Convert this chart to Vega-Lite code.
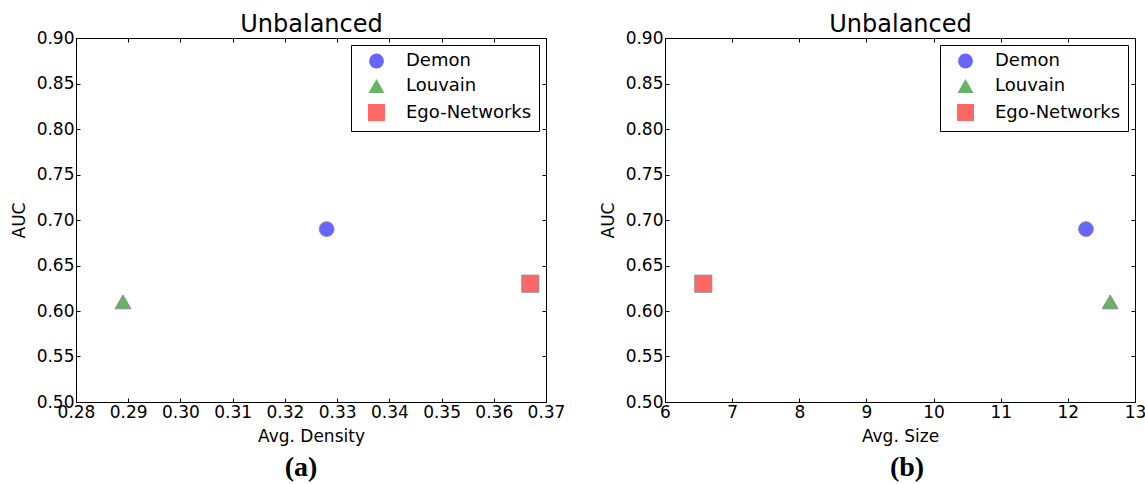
{
  "$schema": "https://vega.github.io/schema/vega-lite/v6.json",
  "padding": {"left": 10, "top": 12, "right": 0, "bottom": 0},
  "background": "white",
  "data": {"values": [
    {"method": "Demon", "density": 0.328, "size": 12.27, "auc": 0.69},
    {"method": "Louvain", "density": 0.289, "size": 12.63, "auc": 0.61},
    {"method": "Ego-Networks", "density": 0.367, "size": 6.57, "auc": 0.63}
  ]},
  "config": {
    "font": "DejaVu Sans",
    "view": {"stroke": null},
    "axis": {
      "grid": false,
      "domainColor": "black",
      "domainWidth": 1,
      "tickColor": "black",
      "tickWidth": 1,
      "tickSize": -4,
      "labelColor": "black",
      "titleColor": "black",
      "labelFont": "DejaVu Sans",
      "titleFont": "DejaVu Sans",
      "labelFontSize": 17,
      "titleFontSize": 17,
      "titleFontWeight": "normal",
      "labelFlush": false,
      "labelOverlap": false
    },
    "legend": {
      "orient": "top-right",
      "offset": 7,
      "title": null,
      "strokeColor": "black",
      "fillColor": "white",
      "padding": 7,
      "symbolOffset": 9,
      "labelOffset": 20,
      "labelFont": "DejaVu Sans",
      "labelFontSize": 18,
      "labelColor": "black",
      "rowPadding": 6,
      "symbolStrokeColor": "#8c8c8c",
      "symbolStrokeWidth": 1,
      "symbolOpacity": 1,
      "cornerRadius": 0
    }
  },
  "spacing": 34,
  "hconcat": [
    {
      "width": 470,
      "height": 364,
      "title": {"text": "(a)", "orient": "bottom", "font": "Liberation Serif", "fontWeight": "bold", "fontSize": 28, "color": "black", "frame": "group", "anchor": "middle", "dx": -10, "offset": 10},
      "layer": [
        {
          "mark": {"type": "point", "filled": true, "opacity": 1, "stroke": "#8c8c8c", "strokeWidth": 1},
          "encoding": {
            "x": {"field": "density", "type": "quantitative", "scale": {"domain": [0.28, 0.37], "nice": false, "zero": false},
                  "axis": {"values": [0.28, 0.29, 0.30, 0.31, 0.32, 0.33, 0.34, 0.35, 0.36, 0.37], "format": ".2f", "title": "Avg. Density", "labelPadding": 6, "titlePadding": 8}},
            "y": {"field": "auc", "type": "quantitative", "scale": {"domain": [0.5, 0.9], "nice": false, "zero": false},
                  "axis": {"values": [0.5, 0.55, 0.6, 0.65, 0.7, 0.75, 0.8, 0.85, 0.9], "format": ".2f", "title": "AUC", "labelPadding": 6, "titlePadding": 8}},
            "color": {"field": "method", "type": "nominal", "scale": {"domain": ["Demon", "Louvain", "Ego-Networks"], "range": ["#6666ff", "#66b366", "#ff6666"]}},
            "shape": {"field": "method", "type": "nominal", "scale": {"domain": ["Demon", "Louvain", "Ego-Networks"], "range": ["circle", "triangle-up", "square"]}},
            "size": {"field": "method", "type": "nominal", "scale": {"domain": ["Demon", "Louvain", "Ego-Networks"], "range": [220, 290, 260]}}
          }
        },
        {
          "mark": {"type": "point", "opacity": 0},
          "encoding": {
            "x": {"field": "density", "type": "quantitative", "scale": {"domain": [0.28, 0.37], "nice": false, "zero": false},
                  "axis": {"orient": "top", "values": [0.28, 0.29, 0.30, 0.31, 0.32, 0.33, 0.34, 0.35, 0.36, 0.37], "labels": false, "title": "Unbalanced", "titleFontSize": 24, "titlePadding": 1}},
            "y": {"field": "auc", "type": "quantitative", "scale": {"domain": [0.5, 0.9], "nice": false, "zero": false},
                  "axis": {"orient": "right", "values": [0.5, 0.55, 0.6, 0.65, 0.7, 0.75, 0.8, 0.85, 0.9], "labels": false, "title": null}}
          }
        }
      ],
      "resolve": {"axis": {"x": "independent", "y": "independent"}}
    },
    {
      "width": 470,
      "height": 364,
      "title": {"text": "(b)", "orient": "bottom", "font": "Liberation Serif", "fontWeight": "bold", "fontSize": 28, "color": "black", "frame": "group", "anchor": "middle", "dx": 7, "offset": 10},
      "layer": [
        {
          "mark": {"type": "point", "filled": true, "opacity": 1, "stroke": "#8c8c8c", "strokeWidth": 1},
          "encoding": {
            "x": {"field": "size", "type": "quantitative", "scale": {"domain": [6, 13], "nice": false, "zero": false},
                  "axis": {"values": [6, 7, 8, 9, 10, 11, 12, 13], "format": "d", "title": "Avg. Size", "labelPadding": 6, "titlePadding": 8}},
            "y": {"field": "auc", "type": "quantitative", "scale": {"domain": [0.5, 0.9], "nice": false, "zero": false},
                  "axis": {"values": [0.5, 0.55, 0.6, 0.65, 0.7, 0.75, 0.8, 0.85, 0.9], "format": ".2f", "title": "AUC", "labelPadding": 6, "titlePadding": 8}},
            "color": {"field": "method", "type": "nominal", "scale": {"domain": ["Demon", "Louvain", "Ego-Networks"], "range": ["#6666ff", "#66b366", "#ff6666"]}},
            "shape": {"field": "method", "type": "nominal", "scale": {"domain": ["Demon", "Louvain", "Ego-Networks"], "range": ["circle", "triangle-up", "square"]}},
            "size": {"field": "method", "type": "nominal", "scale": {"domain": ["Demon", "Louvain", "Ego-Networks"], "range": [220, 290, 260]}}
          }
        },
        {
          "mark": {"type": "point", "opacity": 0},
          "encoding": {
            "x": {"field": "size", "type": "quantitative", "scale": {"domain": [6, 13], "nice": false, "zero": false},
                  "axis": {"orient": "top", "values": [6, 7, 8, 9, 10, 11, 12, 13], "labels": false, "title": "Unbalanced", "titleFontSize": 24, "titlePadding": 1}},
            "y": {"field": "auc", "type": "quantitative", "scale": {"domain": [0.5, 0.9], "nice": false, "zero": false},
                  "axis": {"orient": "right", "values": [0.5, 0.55, 0.6, 0.65, 0.7, 0.75, 0.8, 0.85, 0.9], "labels": false, "title": null}}
          }
        }
      ],
      "resolve": {"axis": {"x": "independent", "y": "independent"}}
    }
  ],
  "resolve": {"legend": {"color": "independent", "shape": "independent", "size": "independent"}, "scale": {"color": "independent", "shape": "independent", "size": "independent"}}
}
